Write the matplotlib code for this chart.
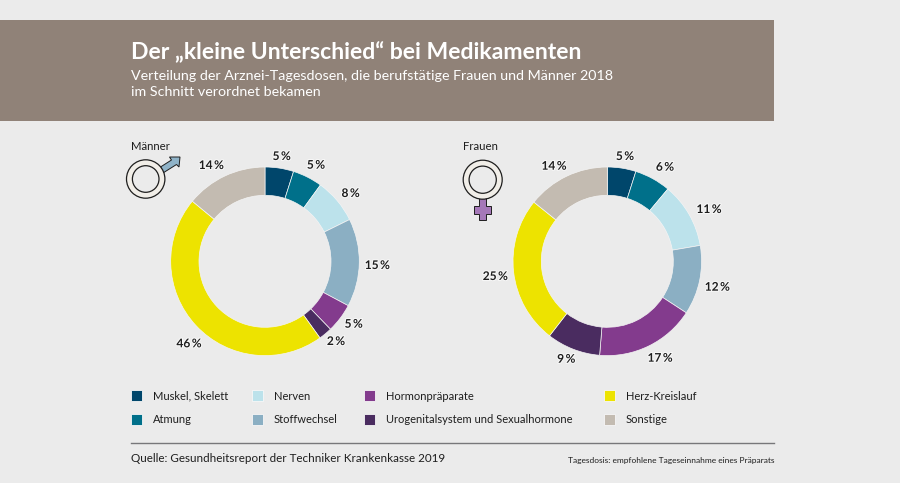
import matplotlib
matplotlib.use("Agg")
import matplotlib.pyplot as plt
from matplotlib.patches import Rectangle, Circle, Polygon
import matplotlib.patheffects as pe

plt.rcParams['font.family'] = ['Lato', 'DejaVu Sans']

W, H = 900, 483
categories = ["Muskel, Skelett", "Atmung", "Nerven", "Stoffwechsel", "Hormonpräparate",
              "Urogenitalsystem und Sexualhormone", "Herz-Kreislauf", "Sonstige"]
colors = ["#00466B", "#00708A", "#BCE2EB", "#8BAFC3", "#833B8D", "#4A2C60", "#EDE300", "#C3BBB1"]
men_values = [4.9, 5.1, 7.7, 15.1, 5.0, 2.3, 45.9, 14.0]
women_values = [4.9, 6.2, 11.2, 11.9, 17.1, 9.2, 25.3, 14.2]
men_labels = [5, 5, 8, 15, 5, 2, 46, 14]
women_labels = [5, 6, 11, 12, 17, 9, 25, 14]
men_label_xy = [(281.7,156),(316,164.7),(350.7,193),(377.3,265),(353.7,323.7),(336,341),(189,343.3),(211.3,165)]
women_label_xy = [(625,156),(665,166.7),(709,209),(717.3,286.7),(660,357.7),(566.3,358.7),(495.3,276),(554,165.7)]

fig = plt.figure(figsize=(W/100, H/100), dpi=100, facecolor="#EBEBEB")
bg = fig.add_axes([0, 0, 1, 1], zorder=0)
bg.set_xlim(0, W); bg.set_ylim(H, 0); bg.axis("off")

ink = "#1E1E1E"
bg.add_patch(Rectangle((0, 20), 773.5, 101, fc="#908278", ec="none"))
bg.text(131, 52.5, "Der „kleine Unterschied“ bei Medikamenten", color="white",
        fontsize=16.6, fontweight="bold", va="center", ha="left")
bg.text(131, 75.5, "Verteilung der Arznei-Tagesdosen, die berufstätige Frauen und Männer 2018",
        color="white", fontsize=10.25, va="center", ha="left")
bg.text(131, 92.5, "im Schnitt verordnet bekamen", color="white", fontsize=10.25, va="center", ha="left")

R, r = 94.3, 66.0
def donut(cx, cy, vals):
    span = 2.5 * R
    ax = fig.add_axes([(cx - span/2)/W, 1 - (cy + span/2)/H, span/W, span/H], zorder=1)
    ax.pie(vals, colors=colors, startangle=90, counterclock=False, radius=1,
           normalize=True, wedgeprops=dict(width=1 - r/R, edgecolor="#F4F4F4", linewidth=0.5))
    ax.set_aspect("equal")

donut(265, 261.3, men_values)
donut(607.3, 261.3, women_values)

fg = fig.add_axes([0, 0, 1, 1], zorder=2, facecolor="none")
fg.set_xlim(0, W); fg.set_ylim(H, 0); fg.axis("off")
halo = [pe.withStroke(linewidth=1.6, foreground="#F7F7F7")]
for vals, xy in ((men_labels, men_label_xy), (women_labels, women_label_xy)):
    for v, (x, y) in zip(vals, xy):
        fg.text(x, y + 0.5, f"{v}\u2009%", ha="center", va="center", fontsize=8.6, fontweight="bold",
                color=ink, path_effects=halo)

fg.text(130.5, 146.5, "Männer", fontsize=8.2, color=ink, va="center", ha="left")
fg.text(462.5, 146, "Frauen", fontsize=8.2, color=ink, va="center", ha="left")

# Male symbol
fg.add_patch(Polygon([(160.5,167),(171.5,160),(169.5,157),(180,157),(179,167),(176.5,164.5),(163,173)],
                     fc="#8FB3C8", ec=ink, lw=0.7))
fg.add_patch(Circle((145.7, 179), 19.2, fc="#F1EEE8", ec=ink, lw=0.9))
fg.add_patch(Circle((145.7, 179), 13.3, fc="#EBEBEB", ec=ink, lw=0.9))
# Female symbol
fg.add_patch(Polygon([(479.3,198),(486.3,198),(486.3,206),(491.3,206),(491.3,214),(486.3,214),(486.3,219.5),
                      (479.3,219.5),(479.3,214),(474.3,214),(474.3,206),(479.3,206)],
                     fc="#A578B8", ec=ink, lw=0.7))
fg.add_patch(Circle((482.7, 179.7), 19.5, fc="#F1EEE8", ec=ink, lw=0.9))
fg.add_patch(Circle((482.7, 179.7), 13.6, fc="#EBEBEB", ec=ink, lw=0.9))

# Legend
square_x = [131, 131, 252, 252, 364, 364, 604, 604]
text_x = [153, 153, 274, 274, 386, 386, 626, 626]
row_y = [395.5, 419, 395.5, 419, 395.5, 419, 395.5, 419]
for c, name, sx, tx, y in zip(colors, categories, square_x, text_x, row_y):
    fg.add_patch(Rectangle((sx, y - 5.5), 11, 11, fc=c, ec="#F7F7F7", lw=0.6))
    fg.text(tx, y + 0.5, name, fontsize=8.0, color=ink, va="center", ha="left")

fg.plot([131, 773.5], [442.5, 442.5], color="#77777A", lw=1.0)
fg.text(131, 459, "Quelle: Gesundheitsreport der Techniker Krankenkasse 2019",
        fontsize=8.35, color=ink, va="center", ha="left")
fg.text(774, 460.5, "Tagesdosis: empfohlene Tageseinnahme eines Präparats",
        fontsize=6.05, color=ink, va="center", ha="right")

fig.savefig("out.png", dpi=100, facecolor=fig.get_facecolor())
